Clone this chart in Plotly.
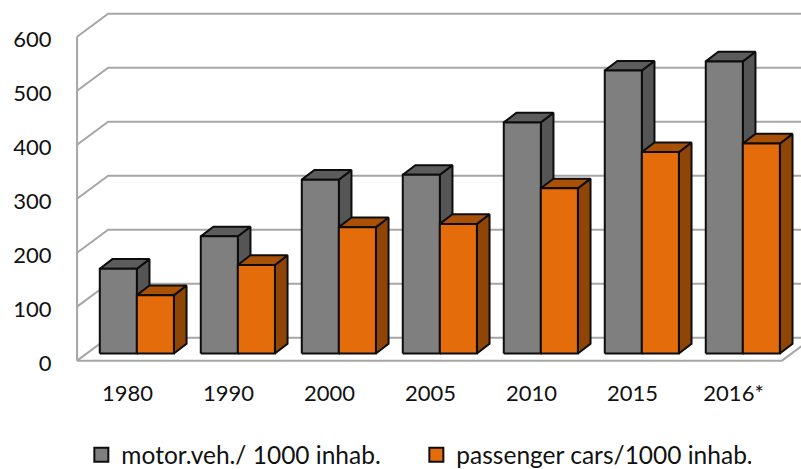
import plotly.graph_objects as go

categories = ["1980", "1990", "2000", "2005", "2010", "2015", "2016*"]
motor_vehicles = [157, 217, 322, 331, 428, 524, 541]
passenger_cars = [108, 164, 234, 240, 306, 373, 389]
y_ticks = [0, 100, 200, 300, 400, 500, 600]

FONT = "Lato"
GRID = "#a6a6a6"
EDGE = "#0d0d0d"

# chart geometry, in axis units
WALL_DX, WALL_DY = 0.3075, 42.6     # offset of the back wall
BAR_DX, BAR_DY = 0.125, 17.8        # depth of a bar
PLANE_DX, PLANE_DY = 0.092, 13.3    # offset of the bars' front plane
BAR_W = 0.367
X_MIN, X_MAX = -0.5, 6.48


def polys(shapes):
    xs, ys = [], []
    for s in shapes:
        for px, py in s:
            xs.append(px)
            ys.append(py)
        xs.append(s[0][0])
        ys.append(s[0][1])
        xs.append(None)
        ys.append(None)
    return xs, ys


fig = go.Figure()

# walls and gridlines
gx, gy = [], []
for v in y_ticks:
    gx += [X_MIN, X_MIN + WALL_DX, X_MAX + WALL_DX + 1, None]
    gy += [v, v + WALL_DY, v + WALL_DY, None]
gx += [X_MIN, X_MIN, None, X_MIN, X_MAX, X_MAX + WALL_DX]
gy += [0, y_ticks[-1], None, 0, 0, WALL_DY]
fig.add_trace(go.Scatter(x=gx, y=gy, mode="lines", line=dict(color=GRID, width=2),
                         hoverinfo="skip", showlegend=False))


def add_series(values, slot, front, top, side, name):
    fronts, tops, sides = [], [], []
    for i, v in enumerate(values):
        x0 = i + PLANE_DX + (slot - 1) * BAR_W
        x1 = x0 + BAR_W
        b = PLANE_DY
        t = v + PLANE_DY
        fronts.append([(x0, b), (x1, b), (x1, t), (x0, t)])
        tops.append([(x0, t), (x1, t), (x1 + BAR_DX, t + BAR_DY), (x0 + BAR_DX, t + BAR_DY)])
        sides.append([(x1, b), (x1 + BAR_DX, b + BAR_DY), (x1 + BAR_DX, t + BAR_DY), (x1, t)])
    for shapes, color in ((sides, side), (tops, top), (fronts, front)):
        xs, ys = polys(shapes)
        fig.add_trace(go.Scatter(x=xs, y=ys, mode="lines", fill="toself", fillcolor=color,
                                 line=dict(color=EDGE, width=2), hoverinfo="skip",
                                 showlegend=False))
    fig.add_trace(go.Scatter(x=[None], y=[None], mode="markers", name=name,
                             marker=dict(symbol="square", size=14, color=front,
                                         line=dict(color=EDGE, width=2))))


add_series(motor_vehicles, 0, "#7f7f7f", "#5c5c5c", "#555555", "motor.veh./ 1000 inhab.")
add_series(passenger_cars, 1, "#e46c0a", "#aa5108", "#8f4506", "passenger cars/1000 inhab.")

fig.update_layout(
    width=801, height=469,
    margin=dict(l=60, r=0, t=0, b=97, pad=0),
    paper_bgcolor="white", plot_bgcolor="white",
    font=dict(family=FONT, size=22, color="#111111"),
    xaxis=dict(range=[-0.669, 6.668], tickvals=list(range(len(categories))), ticktext=categories,
               showgrid=False, zeroline=False, showline=False, ticks="outside", ticklen=2,
               tickcolor="rgba(0,0,0,0)", fixedrange=True),
    yaxis=dict(range=[-21, 668], tickvals=y_ticks, showgrid=False, zeroline=False, showline=False,
               ticks="outside", ticklen=3, tickcolor="rgba(0,0,0,0)", ticklabelshift=3,
               fixedrange=True),
    legend=dict(orientation="h", x=0.0288, xanchor="left", y=0.03, yanchor="middle", yref="container",
                entrywidth=290, entrywidthmode="pixels", font=dict(family=FONT, size=24.5),
                bgcolor="rgba(0,0,0,0)", itemclick=False, itemdoubleclick=False),
)

fig.write_html("out.html", config={"displayModeBar": False},
               post_script="document.body.style.margin='0';document.documentElement.style.overflow='hidden';")
